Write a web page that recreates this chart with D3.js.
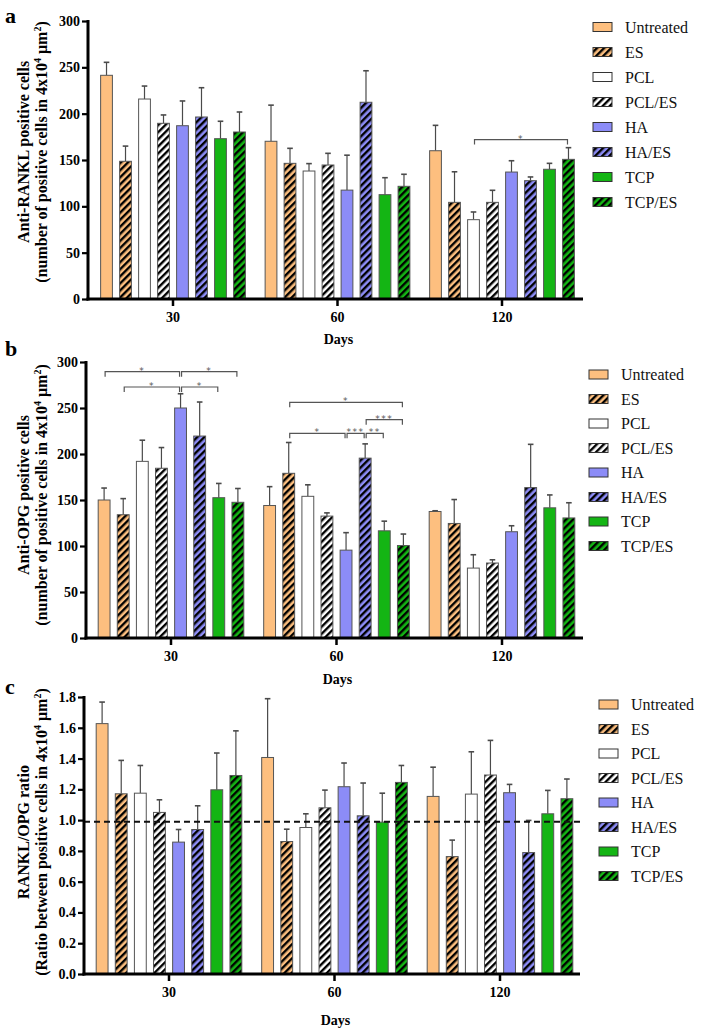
<!DOCTYPE html>
<html><head><meta charset="utf-8">
<script src="https://cdn.jsdelivr.net/npm/d3@7"></script>
<style>body{margin:0;background:#fff}svg{display:block}
svg text{font-family:"Liberation Serif","Times New Roman","DejaVu Serif",serif;}
svg text.star{font-family:"DejaVu Sans",sans-serif;}
</style>
</head><body>
<svg id="chart" width="703" height="1032"></svg>
<script>
// ---------------- DATA ----------------
const series = ["Untreated","ES","PCL","PCL/ES","HA","HA/ES","TCP","TCP/ES"];
const days = ["30","60","120"];

// Panel a: Anti-RANKL positive cells (mean, SD) per day, per series
const ranklMean = [
  [241.4,148.6,215.8,189.6,187.0,196.4,173.0,180.2],
  [170.2,146.4,138.1,144.6,117.5,212.3,112.6,121.6],
  [160.0,104.3, 85.6,104.3,137.0,127.7,140.0,150.7]
];
const ranklSD = [
  [14.0,16.4,14.0, 9.0,26.7,31.6,18.8,21.6],
  [39.0,16.2, 8.0,12.6,37.7,34.0,18.3,13.0],
  [27.4,33.0, 8.3,13.0,12.2, 4.0, 6.4,12.6]
];
// Panel b: Anti-OPG positive cells
const opgMean = [
  [150.0,134.0,192.0,184.5,250.0,219.5,152.5,147.5],
  [144.0,179.0,154.0,132.5, 95.5,195.5,116.5,100.5],
  [137.5,124.5, 76.0, 81.5,115.5,163.5,141.5,130.5]
];
const opgSD = [
  [13.0,17.5,23.0,22.5,15.5,37.0,15.5,15.0],
  [20.5,33.5,12.5, 3.5,19.0,15.5,10.5,12.5],
  [ 0.8,26.0,14.5, 3.5, 6.5,47.0,14.0,16.5]
];
// Panel c: RANKL/OPG ratio
const ratioMean = [
  [1.627,1.171,1.175,1.050,0.857,0.939,1.197,1.290],
  [1.407,0.861,0.952,1.080,1.217,1.028,0.987,1.245],
  [1.154,0.763,1.169,1.293,1.178,0.789,1.041,1.139]
];
const ratioSD = [
  [0.140,0.217,0.180,0.082,0.082,0.154,0.239,0.290],
  [0.382,0.080,0.089,0.115,0.154,0.213,0.188,0.110],
  [0.190,0.107,0.275,0.225,0.054,0.209,0.152,0.128]
];
const ratioRef = 0.99;

const ranklTicks = [0,50,100,150,200,250,300];
const opgTicks = [0,50,100,150,200,250,300];
const ratioTicks = [0,0.2,0.4,0.6,0.8,1.0,1.2,1.4,1.6,1.8];

// significance brackets: day, from series index, to series index, level value, label
const ranklSig = [
  {day:"120", a:2, b:7, v:172, label:"*"}
];
const opgSig = [
  {day:"30", a:0, b:4, v:289.5, label:"*"},
  {day:"30", a:4, b:7, v:289.5, label:"*"},
  {day:"30", a:1, b:4, v:272.8, label:"*"},
  {day:"30", a:4, b:6, v:272.8, label:"*"},
  {day:"60", a:1, b:7, v:256.2, label:"*"},
  {day:"60", a:5, b:7, v:237.3, label:"***"},
  {day:"60", a:1, b:4, v:222.5, label:"*"},
  {day:"60", a:4, b:5, v:222.5, label:"***"},
  {day:"60", a:5, b:6, v:222.5, label:"**"}
];
const ratioSig = [];

// ---------------- STYLE ----------------
const fillColors = ["#FDBF7F","#FDBF7F","#FFFFFF","#FFFFFF","#8C8CF7","#8C8CF7","#14B514","#14B514"];
const hatched = [false,true,false,true,false,true,false,true];

const svg = d3.select("#chart");
const defs = svg.append("defs");
series.forEach((s,i)=>{
  if(!hatched[i]) return;
  const p = defs.append("pattern").attr("id","hatch"+i)
    .attr("patternUnits","userSpaceOnUse").attr("width",5).attr("height",5)
    .attr("patternTransform","rotate(45)");
  p.append("rect").attr("width",5).attr("height",5).attr("fill",fillColors[i]);
  p.append("line").attr("x1",1.2).attr("y1",0).attr("x2",1.2).attr("y2",5)
    .attr("stroke","#000").attr("stroke-width",2.4);
});
const fillOf = i => hatched[i] ? `url(#hatch${i})` : fillColors[i];

const panels = [
  {letter:"a", letterY:23, mean:ranklMean, sd:ranklSD, ticks:ranklTicks, fmt:d3.format("d"),
   top:21, bottom:299, axisX:88, xEnd:583, c0:173, c2:502, tickLabelY:322, daysY:344,
   titles:["Anti-RANKL positive cells","(number of positive cells in 4x10","4"," μm","2",")"],
   titleCY:152, sig:ranklSig, legendX:593, legendY:27, legendStep:25, ref:null},
  {letter:"b", letterY:356, mean:opgMean, sd:opgSD, ticks:opgTicks, fmt:d3.format("d"),
   top:362, bottom:638, axisX:86, xEnd:583, c0:171, c2:502, tickLabelY:661, daysY:684,
   titles:["Anti-OPG positive cells","(number of positive cells in 4x10","4"," μm","2",")"],
   titleCY:495, sig:opgSig, legendX:589, legendY:374.5, legendStep:24.5, ref:null},
  {letter:"c", letterY:694, mean:ratioMean, sd:ratioSD, ticks:ratioTicks, fmt:d3.format(".1f"),
   top:697, bottom:974, axisX:84, xEnd:580, c0:169, c2:500, tickLabelY:997, daysY:1025,
   titles:["RANKL/OPG ratio","(Ratio between positive cells in 4x10","4"," μm","2",")"],
   titleCY:832, sig:ratioSig, legendX:599, legendY:704.5, legendStep:24.5, ref:ratioRef}
];

panels.forEach(P=>{
  const g = svg.append("g");
  const maxV = P.ticks[P.ticks.length-1];
  const y = d3.scaleLinear().domain([0,maxV]).range([P.bottom,P.top]);
  const step = (P.c2-P.c0)/2;
  const x0 = d3.scaleBand().domain(days).range([P.c0-step/2, P.c2+step/2]).padding(0);
  const x1 = d3.scaleBand().domain(series).range([0,x0.bandwidth()]).paddingInner(0.38).paddingOuter(0.52);

  // bars
  days.forEach((d,di)=>{
    const gg = g.append("g").attr("transform",`translate(${x0(d)},0)`);
    series.forEach((s,si)=>{
      const m = P.mean[di][si], e = P.sd[di][si];
      const xc = x1(s)+x1.bandwidth()/2;
      gg.append("line").attr("x1",xc).attr("x2",xc).attr("y1",y(m)).attr("y2",y(m+e))
        .attr("stroke","#4a4a4a").attr("stroke-width",1.2);
      gg.append("line").attr("x1",xc-2.8).attr("x2",xc+2.8).attr("y1",y(m+e)).attr("y2",y(m+e))
        .attr("stroke","#4a4a4a").attr("stroke-width",1.6);
      gg.append("rect").attr("x",x1(s)).attr("width",x1.bandwidth())
        .attr("y",y(m)).attr("height",y(0)-y(m))
        .attr("fill",fillOf(si)).attr("stroke","#555").attr("stroke-width",1);
    });
  });

  // reference line
  if(P.ref!==null){
    g.append("line").attr("x1",P.axisX).attr("x2",P.xEnd).attr("y1",y(P.ref)).attr("y2",y(P.ref))
      .attr("stroke","#111").attr("stroke-width",2).attr("stroke-dasharray","6,4");
  }

  // significance brackets
  P.sig.forEach(b=>{
    const xa = x0(b.day)+x1(series[b.a])+x1.bandwidth()/2+1;
    const xb = x0(b.day)+x1(series[b.b])+x1.bandwidth()/2-1;
    const yy = y(b.v);
    g.append("path").attr("d",`M${xa},${yy+5}V${yy}H${xb}V${yy+5}`)
      .attr("fill","none").attr("stroke","#555").attr("stroke-width",1.2);
    g.append("text").attr("class","star").attr("x",(xa+xb)/2).attr("y",yy+2).attr("text-anchor","middle")
      .attr("font-size",9).attr("fill","#555")
      .attr("letter-spacing",1.5).text(b.label);
  });

  // y axis
  const ya = g.append("g").attr("transform",`translate(${P.axisX},0)`)
    .call(d3.axisLeft(y).tickValues(P.ticks).tickFormat(P.fmt).tickSize(6).tickSizeOuter(0).tickPadding(2));
  ya.attr("font-family",null);
  ya.select(".domain").remove();
  ya.selectAll(".tick line").attr("stroke","#000").attr("stroke-width",2.2);
  ya.selectAll(".tick text").attr("font-weight","bold").attr("font-size",14).attr("fill","#000");
  g.append("line").attr("x1",P.axisX).attr("x2",P.axisX).attr("y1",P.top-1).attr("y2",P.bottom+1.5)
    .attr("stroke","#000").attr("stroke-width",3);

  // x axis
  const xa = g.append("g").attr("transform",`translate(0,${P.bottom})`)
    .call(d3.axisBottom(x0).tickSize(7).tickSizeOuter(0).tickPadding(6));
  xa.attr("font-family",null);
  xa.select(".domain").remove();
  xa.selectAll(".tick line").attr("stroke","#000").attr("stroke-width",2.5);
  xa.selectAll(".tick text").attr("font-weight","bold").attr("font-size",14).attr("fill","#000")
    .attr("dy",null).attr("y",P.tickLabelY-P.bottom);
  g.append("line").attr("x1",P.axisX-1.5).attr("x2",P.xEnd).attr("y1",P.bottom).attr("y2",P.bottom)
    .attr("stroke","#000").attr("stroke-width",3);

  // x title
  g.append("text").attr("x",(P.c0+P.c2)/2+1).attr("y",P.daysY).attr("text-anchor","middle")
    .attr("font-weight","bold").attr("font-size",14).text("Days");

  // y titles
  g.append("text").attr("transform",`translate(29,${P.titleCY}) rotate(-90)`)
    .attr("text-anchor","middle").attr("font-weight","bold").attr("font-size",16)
    .text(P.titles[0]);
  const t2 = g.append("text").attr("transform",`translate(47,${P.titleCY}) rotate(-90)`)
    .attr("text-anchor","middle").attr("font-weight","bold").attr("font-size",16);
  t2.append("tspan").text(P.titles[1]);
  t2.append("tspan").attr("font-size",10).attr("dy",-6).text(P.titles[2]);
  t2.append("tspan").attr("dy",6).text(P.titles[3]);
  t2.append("tspan").attr("font-size",10).attr("dy",-6).text(P.titles[4]);
  t2.append("tspan").attr("dy",6).text(P.titles[5]);

  // panel letter
  g.append("text").attr("x",5).attr("y",P.letterY).attr("font-weight","bold")
    .attr("font-size",22).text(P.letter);

  // legend
  const lg = g.append("g");
  series.forEach((s,i)=>{
    const yy = P.legendY + i*P.legendStep;
    lg.append("rect").attr("x",P.legendX).attr("y",yy-4.5).attr("width",19).attr("height",9)
      .attr("fill",fillOf(i)).attr("stroke","#333").attr("stroke-width",1);
    lg.append("text").attr("x",P.legendX+32).attr("y",yy+5.5)
      .attr("font-size",16).attr("fill","#111").text(s);
  });
});
</script>
</body></html>
